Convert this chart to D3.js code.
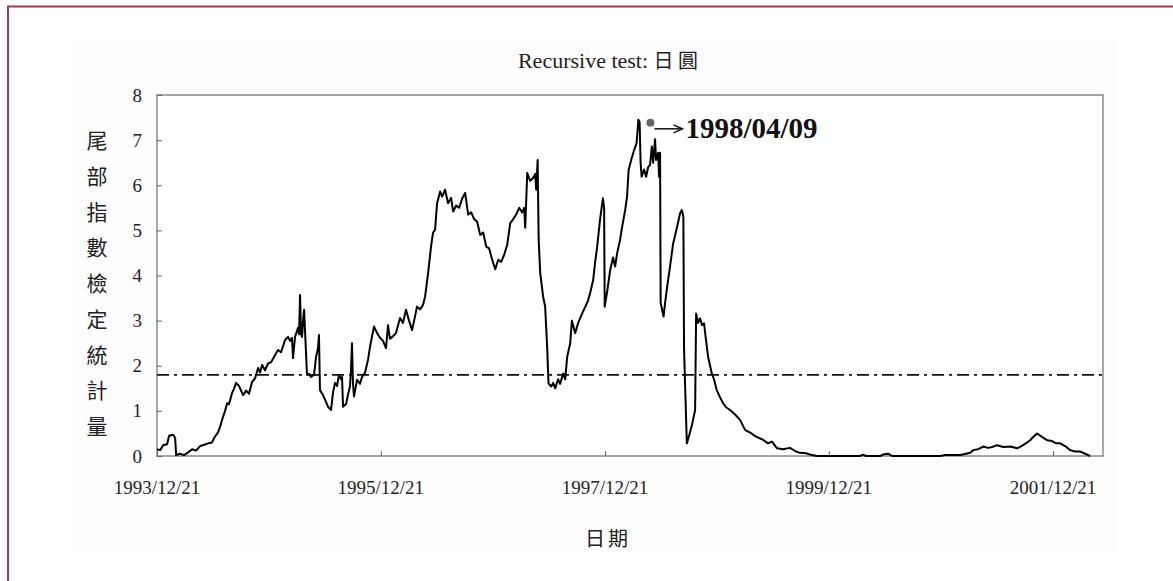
<!DOCTYPE html>
<html>
<head>
<meta charset="utf-8">
<script src="https://cdn.jsdelivr.net/npm/d3@7"></script>
<style>
  body { margin: 0; background: #fff; }
  svg { display: block; }
</style>
</head>
<body>
<svg id="chart" width="1173" height="581"></svg>
<script>
// Recursive tail-index test statistic, daily, JPY (decimal years)
const times = [
  1993.971,1993.998,1994.025,1994.060,1994.078,1994.114,1994.132,1994.141,1994.176,1994.212,
  1994.248,1994.284,1994.319,1994.355,1994.391,1994.426,1994.462,1994.480,1994.516,1994.534,
  1994.551,1994.578,1994.596,1994.614,1994.641,1994.659,1994.676,1994.703,1994.739,1994.766,
  1994.792,1994.819,1994.846,1994.873,1994.891,1994.909,1994.935,1994.962,1994.989,1995.025,
  1995.051,1995.078,1995.114,1995.141,1995.159,1995.176,1995.185,1995.203,1995.230,1995.239,
  1995.248,1995.257,1995.266,1995.275,1995.284,1995.292,1995.310,1995.328,1995.346,1995.373,
  1995.391,1995.409,1995.417,1995.426,1995.453,1995.480,1995.498,1995.525,1995.542,1995.560,
  1995.578,1995.596,1995.614,1995.623,1995.632,1995.659,1995.676,1995.694,1995.703,1995.712,
  1995.721,1995.730,1995.757,1995.784,1995.801,1995.828,1995.855,1995.873,1995.891,1995.909,
  1995.935,1995.962,1995.989,1996.016,1996.034,1996.051,1996.078,1996.105,1996.141,1996.167,
  1996.194,1996.221,1996.248,1996.275,1996.292,1996.319,1996.346,1996.364,1996.391,1996.417,
  1996.435,1996.453,1996.471,1996.498,1996.516,1996.542,1996.569,1996.596,1996.614,1996.641,
  1996.667,1996.694,1996.721,1996.748,1996.775,1996.801,1996.828,1996.855,1996.882,1996.909,
  1996.935,1996.962,1996.989,1997.016,1997.042,1997.069,1997.096,1997.123,1997.150,1997.176,
  1997.203,1997.230,1997.248,1997.257,1997.275,1997.301,1997.328,1997.346,1997.355,1997.368,
  1997.377,1997.391,1997.417,1997.435,1997.453,1997.465,1997.489,1997.507,1997.525,1997.551,
  1997.569,1997.596,1997.614,1997.632,1997.659,1997.674,1997.703,1997.730,1997.766,1997.792,
  1997.819,1997.837,1997.864,1997.882,1997.900,1997.926,1997.951,1997.962,1997.967,1997.989,
  1998.016,1998.042,1998.060,1998.078,1998.105,1998.123,1998.150,1998.167,1998.181,1998.208,
  1998.230,1998.252,1998.268,1998.279,1998.288,1998.297,1998.319,1998.337,1998.355,1998.373,
  1998.388,1998.400,1998.417,1998.426,1998.444,1998.453,1998.462,1998.467,1998.480,1998.493,
  1998.507,1998.525,1998.551,1998.578,1998.614,1998.641,1998.656,1998.670,1998.676,1998.685,
  1998.701,1998.721,1998.748,1998.775,1998.784,1998.801,1998.819,1998.837,1998.855,1998.868,
  1998.891,1998.924,1998.944,1998.968,1998.998,1999.025,1999.051,1999.087,1999.132,1999.176,
  1999.221,1999.266,1999.319,1999.382,1999.426,1999.462,1999.507,1999.560,1999.623,1999.676,
  1999.712,1999.766,1999.819,1999.864,2000.248,2000.275,2000.301,2000.426,2000.462,2000.498,
  2000.534,2000.962,2001.007,2001.141,2001.194,2001.230,2001.257,2001.301,2001.346,2001.391,
  2001.426,2001.471,2001.525,2001.587,2001.650,2001.703,2001.739,2001.766,2001.792,2001.828,
  2001.873,2001.917,2001.962,2001.998,2002.034,2002.078,2002.123,2002.167,2002.212,2002.257,
  2002.301
];

const statValues = [
  0.15,0.13,0.24,0.26,0.45,0.47,0.40,0.02,0.05,0.02,
  0.08,0.15,0.12,0.22,0.25,0.28,0.30,0.40,0.53,0.65,
  0.80,1.00,1.17,1.15,1.40,1.50,1.62,1.55,1.35,1.45,
  1.38,1.64,1.72,1.95,1.85,2.02,1.90,2.05,2.08,2.24,
  2.35,2.30,2.57,2.64,2.55,2.62,2.17,2.64,2.84,2.70,
  3.57,2.70,2.64,3.00,3.24,2.80,1.80,1.82,1.75,1.80,
  2.20,2.40,2.68,1.46,1.35,1.20,1.09,1.02,1.40,1.62,
  1.55,1.80,1.70,1.75,1.09,1.15,1.35,1.54,1.90,2.50,
  1.60,1.32,1.69,1.60,1.75,1.84,2.13,2.42,2.65,2.87,
  2.73,2.62,2.55,2.39,2.90,2.60,2.65,2.73,3.06,2.95,
  3.24,3.00,2.79,3.10,3.31,3.25,3.35,3.53,4.05,4.64,
  4.95,5.01,5.60,5.86,5.75,5.90,5.60,5.72,5.42,5.55,
  5.50,5.70,5.83,5.35,5.40,5.25,5.19,4.90,4.95,4.64,
  4.60,4.35,4.14,4.35,4.30,4.46,4.68,5.16,5.25,5.35,
  5.50,5.40,5.50,5.06,6.27,6.10,6.16,6.25,5.90,6.56,
  4.80,4.05,3.53,3.31,2.42,1.61,1.54,1.62,1.50,1.70,
  1.60,1.83,1.70,2.20,2.50,3.00,2.72,2.95,3.16,3.30,
  3.45,3.61,3.90,4.30,4.64,5.25,5.71,5.50,3.31,3.64,
  4.12,4.40,4.20,4.49,4.80,5.08,5.45,5.75,6.34,6.60,
  6.78,6.93,7.45,7.40,6.50,6.19,6.35,6.19,6.40,6.45,
  6.86,6.50,7.02,6.56,6.72,6.19,6.72,3.40,3.24,3.09,
  3.40,3.75,4.20,4.70,5.08,5.38,5.45,5.31,2.40,1.60,
  0.28,0.45,0.70,1.02,3.16,2.95,3.05,2.90,2.94,2.65,
  2.20,1.83,1.70,1.46,1.30,1.17,1.08,1.02,0.92,0.80,
  0.58,0.52,0.43,0.36,0.28,0.32,0.17,0.15,0.18,0.10,
  0.07,0.06,0.02,0.00,0.00,0.03,0.00,0.00,0.04,0.05,
  0.00,0.00,0.02,0.02,0.05,0.07,0.13,0.15,0.21,0.18,
  0.20,0.24,0.20,0.21,0.17,0.24,0.30,0.35,0.42,0.50,
  0.42,0.35,0.33,0.28,0.28,0.22,0.13,0.10,0.10,0.05,
  0.00
];

const xTickLabels = ["1993/12/21", "1995/12/21", "1997/12/21", "1999/12/21", "2001/12/21"];
const xStart = "1993/12/21";
const xEnd = "2002/06/02";
const yTicks = [0, 1, 2, 3, 4, 5, 6, 7, 8];
const criticalValue = 1.8;
const markedDate = "1998/04/09";
const titleLatin = "Recursive test: ";
const titleCjk = "日 圓";
const yTitle = "尾部指數檢定統計量";
const xTitle = "日期";

// ---- helpers ----
const parseDate = d3.utcParse("%Y/%m/%d");
function fromDecimalYear(t) {
  const y = Math.floor(t);
  const a = Date.UTC(y, 0, 1), b = Date.UTC(y + 1, 0, 1);
  return new Date(a + (t - y) * (b - a));
}
const series = times.map((t, i) => ({ date: fromDecimalYear(t), v: statValues[i] }));

// ---- layout ----
const svg = d3.select("#chart");
const plot = { left: 157, right: 1103, top: 95, bottom: 456 };
const latin = "'Liberation Serif', 'Times New Roman', serif";
const cjk = "'Noto Sans CJK TC', 'Noto Sans CJK SC', sans-serif";

const x = d3.scaleUtc().domain([parseDate(xStart), parseDate(xEnd)]).range([plot.left, plot.right]);
const y = d3.scaleLinear().domain([0, 8]).range([plot.bottom, plot.top]);

// page frame and soft panel
svg.append("rect").attr("x", 72).attr("y", 42).attr("width", 1043).attr("height", 510).attr("fill", "#fdfdfd");
svg.append("path").attr("d", "M8,581 V6.5 H1173").attr("fill", "none").attr("stroke", "#9a3b4b").attr("stroke-width", 2);

// plot box
svg.append("rect")
  .attr("x", plot.left).attr("y", plot.top)
  .attr("width", plot.right - plot.left).attr("height", plot.bottom - plot.top)
  .attr("fill", "#fff").attr("stroke", "#888").attr("stroke-width", 1.5);

// axes with inward ticks
const xAxis = d3.axisTop(x).tickValues(xTickLabels.map(parseDate)).tickSize(5).tickFormat("");
const gx = svg.append("g").attr("transform", `translate(0,${plot.bottom})`).call(xAxis);
gx.select(".domain").remove();
gx.selectAll("line").attr("stroke", "#666");

const yAxis = d3.axisRight(y).tickValues(yTicks).tickSize(5).tickFormat("");
const gy = svg.append("g").attr("transform", `translate(${plot.left},0)`).call(yAxis);
gy.select(".domain").remove();
gy.selectAll("line").attr("stroke", "#666");

// tick labels
svg.append("g").selectAll("text").data(xTickLabels).join("text")
  .attr("x", d => x(parseDate(d))).attr("y", 494)
  .attr("text-anchor", "middle")
  .attr("font-family", latin).attr("font-size", 19).attr("fill", "#222")
  .text(d => d);

svg.append("g").selectAll("text").data(yTicks).join("text")
  .attr("x", 142).attr("y", d => y(d) + 6.5)
  .attr("text-anchor", "end")
  .attr("font-family", latin).attr("font-size", 19).attr("fill", "#222")
  .text(d => d);

// critical value line
svg.append("line")
  .attr("x1", plot.left).attr("x2", plot.right)
  .attr("y1", y(criticalValue)).attr("y2", y(criticalValue))
  .attr("stroke", "#111").attr("stroke-width", 1.8)
  .attr("stroke-dasharray", "12,5,3,5");

// statistic path
const line = d3.line().x(d => x(d.date)).y(d => y(d.v));
svg.append("path").datum(series)
  .attr("d", line)
  .attr("fill", "none").attr("stroke", "#000").attr("stroke-width", 2)
  .attr("stroke-linejoin", "round");

// marked maximum
const mark = series.reduce((a, b) => (b.v > a.v ? b : a));
const mx = x(parseDate(markedDate)) + 12;
const my = y(mark.v) + 3;
svg.append("circle").attr("cx", mx).attr("cy", my).attr("r", 4).attr("fill", "#666");
svg.append("line").attr("x1", mx + 4).attr("x2", mx + 32).attr("y1", my + 6).attr("y2", my + 6)
  .attr("stroke", "#111").attr("stroke-width", 1.5);
svg.append("path")
  .attr("d", `M${mx + 23},${my + 2} L${mx + 32},${my + 6} L${mx + 23},${my + 10}`)
  .attr("fill", "none").attr("stroke", "#111").attr("stroke-width", 1.5);
svg.append("text")
  .attr("x", mx + 35).attr("y", my + 15)
  .attr("font-family", latin).attr("font-size", 29).attr("font-weight", "bold").attr("fill", "#111")
  .text(markedDate);

// title
const title = svg.append("text").attr("x", 608).attr("y", 68).attr("text-anchor", "middle")
  .attr("font-size", 22).attr("fill", "#222");
title.append("tspan").attr("font-family", latin).text(titleLatin);
title.append("tspan").attr("font-family", cjk).attr("font-size", 20).text(titleCjk);

// axis titles
svg.append("g").selectAll("text").data(Array.from(yTitle)).join("text")
  .attr("x", 97).attr("y", (d, i) => 139 + i * 35.75)
  .attr("text-anchor", "middle").attr("dominant-baseline", "central")
  .attr("font-family", cjk).attr("font-size", 21).attr("fill", "#222")
  .text(d => d);

svg.append("text").attr("x", 608).attr("y", 537).attr("text-anchor", "middle")
  .attr("dominant-baseline", "central")
  .attr("font-family", cjk).attr("font-size", 20).attr("letter-spacing", 3).attr("fill", "#222")
  .text(xTitle);
</script>
</body>
</html>
